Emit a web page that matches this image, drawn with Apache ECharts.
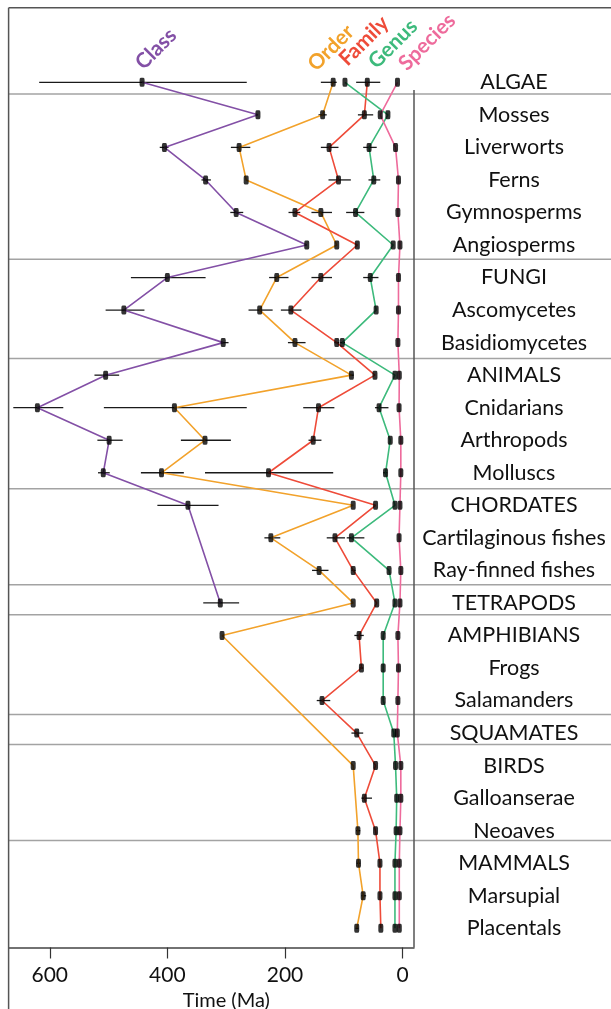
<!DOCTYPE html>
<html><head><meta charset="utf-8">
<script src="https://cdn.jsdelivr.net/npm/echarts@6/dist/echarts.min.js"></script>
<style>html,body{margin:0;padding:0;background:#fff}#c{width:611px;height:1009px}</style>
</head><body><div id="c"></div>
<script>
// ---- data ----
const categories = ['ALGAE','Mosses','Liverworts','Ferns','Gymnosperms','Angiosperms','FUNGI','Ascomycetes','Basidiomycetes','ANIMALS','Cnidarians','Arthropods','Molluscs','CHORDATES','Cartilaginous fishes','Ray-finned fishes','TETRAPODS','AMPHIBIANS','Frogs','Salamanders','SQUAMATES','BIRDS','Galloanserae','Neoaves','MAMMALS','Marsupial','Placentals'];
const seriesNames = ['Class','Order','Family','Genus','Species'];
const seriesColors = ['#8350a6','#f2a22b','#ee4b39','#3dba7c','#ee6b9c'];
const xTicks = [0,200,400,600];
const groupBreaks = [0.36,5.44,8.49,12.49,15.44,16.36,19.43,20.35,23.3];

const classAge   = [443,246,405,335,283,163,400,474,305,505,621,499,509,365,null,null,310,null,null,null,null,null,null,null,null,null,null];
const orderAge   = [118,136,278,266,139,112,214,243,183,87,388,336,410,84,224,142,84,307,null,null,null,84,null,76,75,67,78];
const familyAge  = [60,65,125,109,183,77,139,190,112,47,143,152,228,46,115,84,44,74,70,137,78,46,65,46,38.5,38.5,37];
const genusAge   = [98,25,57,49,80,16,55,45,102.5,13,40,21,29,13,87,23,13,33,33,33,15,12,10,11,13,13,13];
const speciesAge = [8.7,38,12,7,8,4.5,7,7,8,5.6,6,3,3,4.5,6,3,4.5,8,7,8,9,3,3,4.5,5.6,5.6,5.6];

// error bars: [younger, older] or null
const classErr = [[265,618],null,[398,413],[326,342],[271,293],null,[335,462],[439,505],[296,310],[482,524],[577,662],[476,519],[498,518],[313,417],null,null,[278,339],null,null,null,null,null,null,null,null,null,null];
const orderErr = [[112,139],[129,143],[259,292],null,[120,155],null,[194,227],[221,262],[165,195],[83,92],[265,508],[292,377],[372,445],null,[208,235],[126,154],null,null,null,null,null,null,null,[72,79],[72,78],[62,70],[75,80]];
const familyErr = [[38,79],[50,76],[109,139],[88,126],[174,194],null,[120,155],[172,207],[108,116],null,[116,169],[138,160],[118,336],null,[98,129],[80,87],null,[66,82],[67,73],[123,146],[67,87],null,[52,70],null,null,null,null];
const genusErr = [null,null,[44,67],[38,58],[65,96],null,[41,67],null,[98,106],null,[24,47],null,[26,33],null,[65,95],null,null,null,null,null,null,null,null,null,null,null,null];
const speciesErr = categories.map(() => null);

const ages = [classAge, orderAge, familyAge, genusAge, speciesAge];
const errs = [classErr, orderErr, familyErr, genusErr, speciesErr];

// ---- chart ----
const chart = echarts.init(document.getElementById('c'), null, {renderer:'canvas'});
const FONT = 'Lato';

const series = [];
// group separators (extend to right edge)
series.push({
  type:'custom', silent:true, clip:false, z:1,
  data: groupBreaks.map(v => [0, v]),
  renderItem: (params, api) => {
    const y = api.coord([0, api.value(1)])[1];
    return {type:'line', shape:{x1:params.coordSys.x, y1:y, x2:api.getWidth(), y2:y},
      style:{stroke:'#a3a3a3', lineWidth:1.5}};
  }
});
// error bars
errs.forEach((arr, s) => {
  const data = [];
  arr.forEach((e, i) => { if (e) data.push([e[0], i, e[1]]); });
  series.push({
    type:'custom', silent:true, z:3, data,
    renderItem: (params, api) => {
      const a = api.coord([api.value(0), api.value(1)]);
      const b = api.coord([api.value(2), api.value(1)]);
      return {type:'line', shape:{x1:a[0], y1:a[1], x2:b[0], y2:b[1]},
        style:{stroke:'#1a1a1a', lineWidth:1.3}};
    }
  });
});
// lines
ages.forEach((arr, s) => {
  series.push({
    type:'line', name:seriesNames[s], z:4, silent:true,
    data: arr.map((v,i) => v == null ? null : [v, i]).filter(Boolean),
    showSymbol:false, symbol:'none',
    lineStyle:{color:seriesColors[s], width:1.6},
    itemStyle:{color:seriesColors[s]}
  });
});
// markers
const markerData = [];
ages.forEach(arr => arr.forEach((v,i) => { if (v != null) markerData.push([v, i]); }));
series.push({
  type:'scatter', z:6, silent:true, data:markerData,
  symbol:'roundRect', symbolSize:[5,9],
  itemStyle:{color:'#000'}
});

// legend-like rotated labels
const labelPos = [[156,49],[331,48],[364,41],[393,44],[427,42]];
const graphics = seriesNames.map((n, s) => ({
  type:'text', x:labelPos[s][0], y:labelPos[s][1], rotation:Math.PI/4, z:20,
  style:{text:n, fill:seriesColors[s], font:'bold 21px ' + FONT, align:'center', verticalAlign:'middle'}
}));
// frame
graphics.push({type:'line', shape:{x1:8.6,y1:7.8,x2:611,y2:7.8}, style:{stroke:'#555',lineWidth:1.5}, z:20});
graphics.push({type:'line', shape:{x1:8.6,y1:7.8,x2:8.6,y2:1009}, style:{stroke:'#555',lineWidth:1.5}, z:20});
graphics.push({type:'line', shape:{x1:414,y1:90,x2:414,y2:947.5}, style:{stroke:'#555',lineWidth:1.5}, z:20});

chart.setOption({
  animation:false,
  backgroundColor:'#fff',
  textStyle:{fontFamily:FONT},
  grid:{left:8.6, right:197, top:7.8, bottom:61.5, containLabel:false, outerBoundsMode:'none'},
  xAxis:{
    type:'value', inverse:true, min:-19.4, max:670,
    splitLine:{show:false},
    axisLine:{show:true, onZero:false, lineStyle:{color:'#444', width:1.5}},
    axisTick:{show:true, customValues:xTicks, length:11, lineStyle:{color:'#333', width:1.2}},
    axisLabel:{customValues:xTicks, fontSize:21, color:'#111', margin:17, fontFamily:FONT},
    name:'Time (Ma)', nameLocation:'middle', nameGap:33,
    nameTextStyle:{fontSize:20, color:'#111', fontFamily:FONT, padding:[0,0,0,30]}
  },
  yAxis:{
    type:'value', inverse:true, min:-2.29, max:26.59, position:'right',
    splitLine:{show:false}, axisLine:{show:false}, axisTick:{show:false},
    axisLabel:{customValues:categories.map((c,i)=>i), formatter:v => categories[Math.round(v)],
      align:'center', margin:100, fontSize:21.5, color:'#111', fontFamily:FONT}
  },
  graphic:graphics,
  series
});
</script></body></html>
